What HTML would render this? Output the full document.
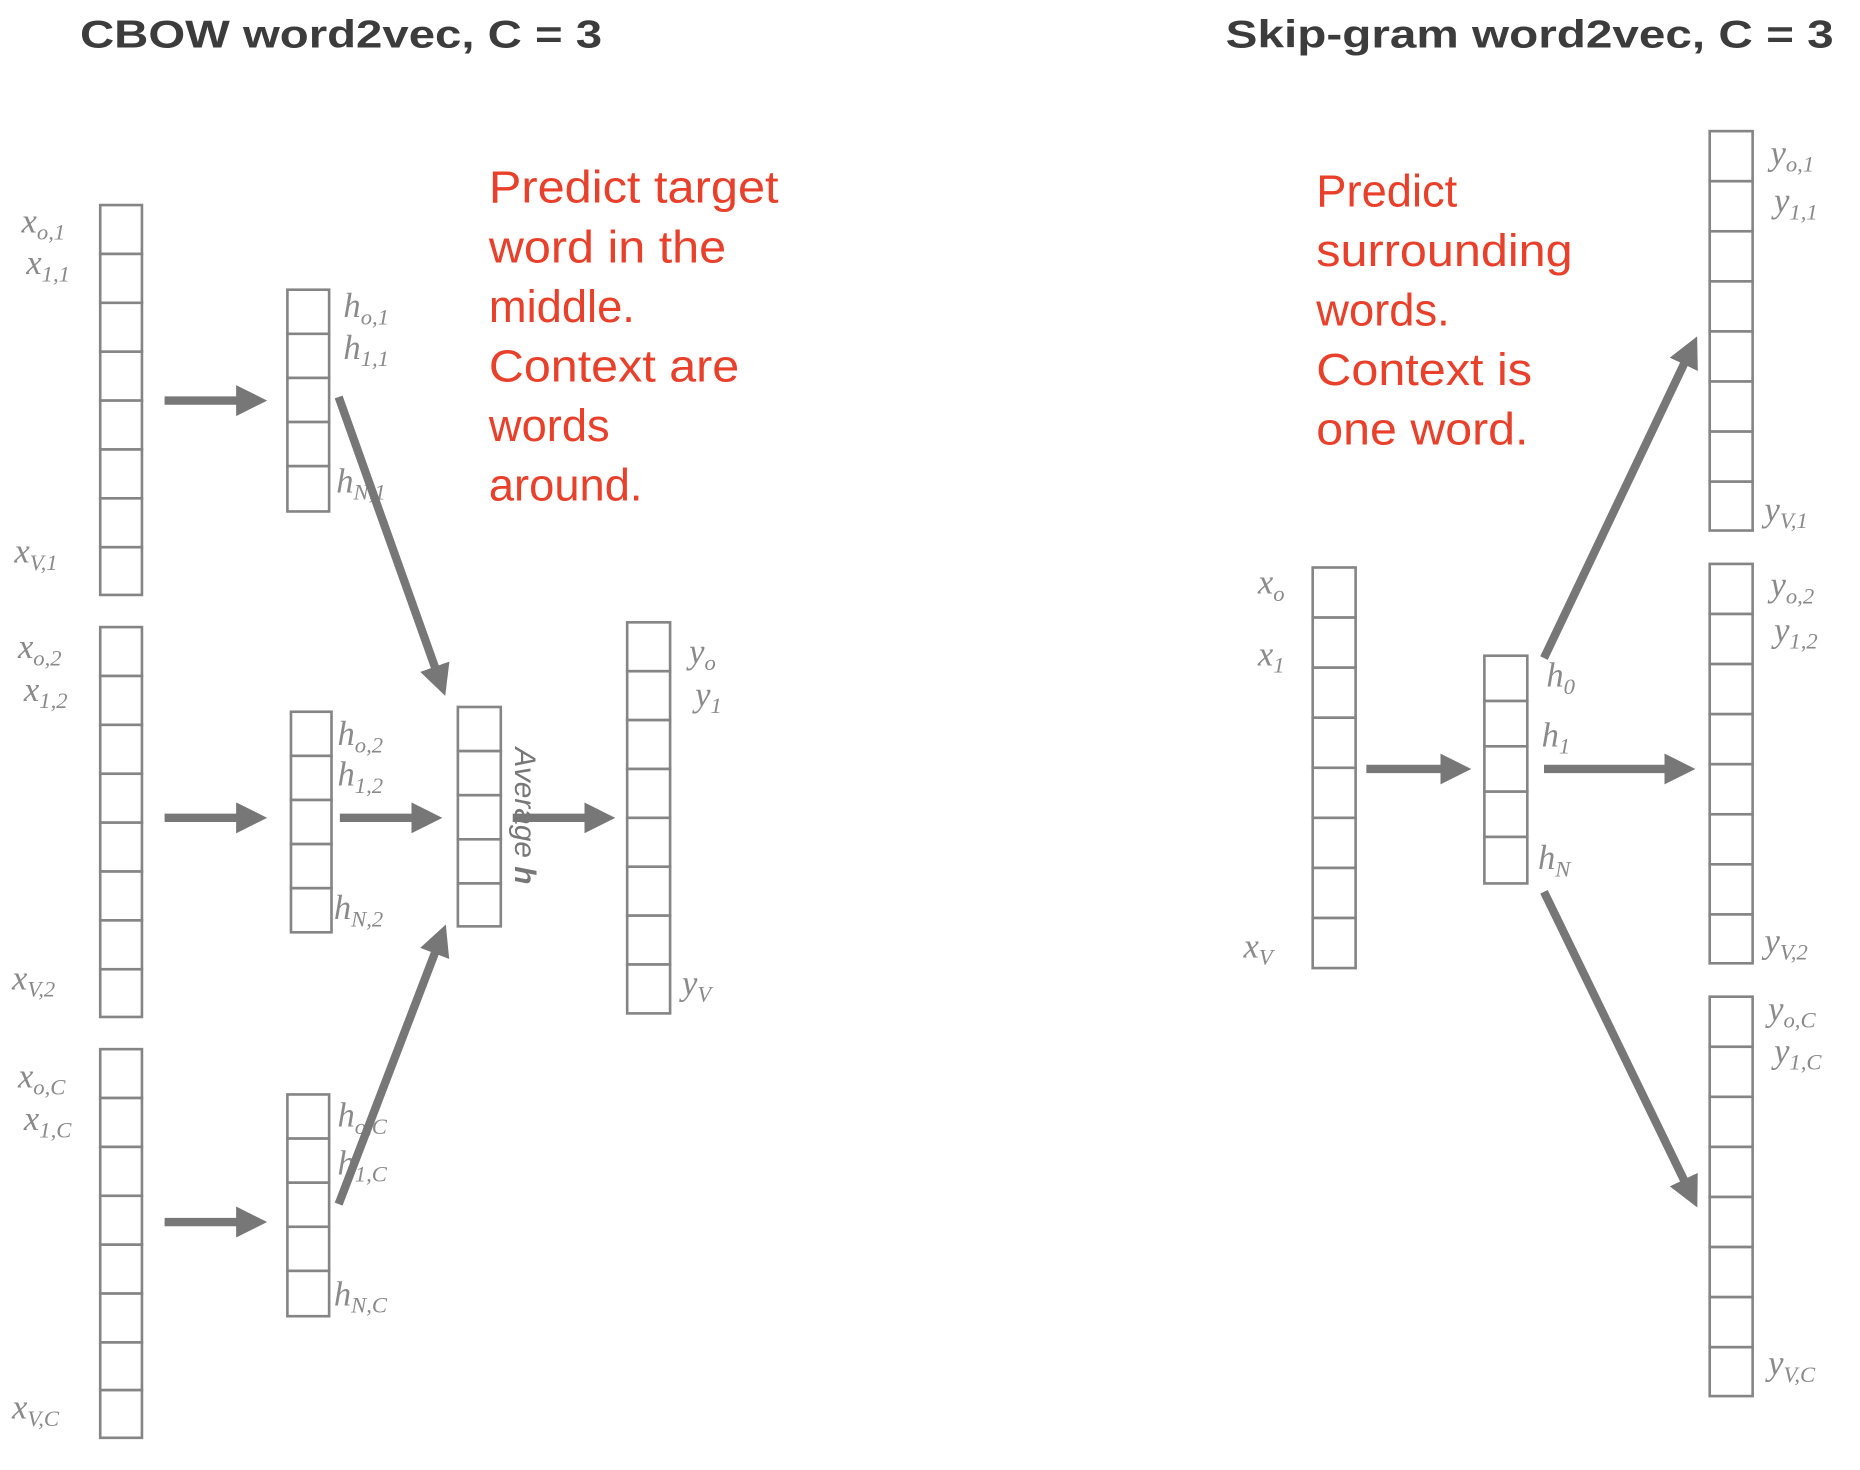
<!DOCTYPE html>
<html><head><meta charset="utf-8"><style>
html,body{margin:0;padding:0;background:#fff;}
svg{display:block;}
.c{fill:#fff;stroke:#858585;stroke-width:2.2;}
.l{font-family:"Liberation Serif",serif;font-style:italic;font-size:29px;fill:#8a8a8a;}
.s{font-size:19px;}
.r{font-family:"Liberation Sans",sans-serif;font-size:38px;fill:#e8402a;}
.t{font-family:"Liberation Sans",sans-serif;font-weight:bold;font-size:33px;fill:#3c3c3c;}
.a{stroke:#777;stroke-width:7;fill:none;marker-end:url(#ah);}
</style></head><body>
<svg width="1860" height="1470" viewBox="0 0 1560 1233" xmlns="http://www.w3.org/2000/svg">
<defs>
<marker id="ah" markerUnits="userSpaceOnUse" markerWidth="30" markerHeight="30" refX="4" refY="13" orient="auto">
<path d="M0,0 L26,13 L0,26 z" fill="#777"/>
</marker>
</defs>
<text class="t" x="67" y="40" textLength="438" lengthAdjust="spacingAndGlyphs">CBOW word2vec, C = 3</text>
<text class="t" x="1028" y="40" textLength="510" lengthAdjust="spacingAndGlyphs">Skip-gram word2vec, C = 3</text>

<g>
<rect class="c" x="84" y="172" width="35" height="41"/><rect class="c" x="84" y="213" width="35" height="41"/><rect class="c" x="84" y="254" width="35" height="41"/><rect class="c" x="84" y="295" width="35" height="41"/><rect class="c" x="84" y="336" width="35" height="41"/><rect class="c" x="84" y="377" width="35" height="41"/><rect class="c" x="84" y="418" width="35" height="41"/><rect class="c" x="84" y="459" width="35" height="40"/>
<rect class="c" x="84" y="526" width="35" height="41"/><rect class="c" x="84" y="567" width="35" height="41"/><rect class="c" x="84" y="608" width="35" height="41"/><rect class="c" x="84" y="649" width="35" height="41"/><rect class="c" x="84" y="690" width="35" height="41"/><rect class="c" x="84" y="731" width="35" height="41"/><rect class="c" x="84" y="772" width="35" height="41"/><rect class="c" x="84" y="813" width="35" height="40"/>
<rect class="c" x="84" y="880" width="35" height="41"/><rect class="c" x="84" y="921" width="35" height="41"/><rect class="c" x="84" y="962" width="35" height="41"/><rect class="c" x="84" y="1003" width="35" height="41"/><rect class="c" x="84" y="1044" width="35" height="41"/><rect class="c" x="84" y="1085" width="35" height="41"/><rect class="c" x="84" y="1126" width="35" height="40"/><rect class="c" x="84" y="1166" width="35" height="40"/>
</g>
<text class="l" x="18" y="195">x<tspan class="s" dy="6">o,1</tspan></text>
<text class="l" x="22" y="230">x<tspan class="s" dy="6">1,1</tspan></text>
<text class="l" x="12" y="472">x<tspan class="s" dy="6">V,1</tspan></text>
<text class="l" x="15" y="552">x<tspan class="s" dy="6">o,2</tspan></text>
<text class="l" x="20" y="588">x<tspan class="s" dy="6">1,2</tspan></text>
<text class="l" x="10" y="830">x<tspan class="s" dy="6">V,2</tspan></text>
<text class="l" x="15" y="912">x<tspan class="s" dy="6">o,C</tspan></text>
<text class="l" x="20" y="948">x<tspan class="s" dy="6">1,C</tspan></text>
<text class="l" x="10" y="1190">x<tspan class="s" dy="6">V,C</tspan></text>

<rect class="c" x="241" y="243" width="35" height="37"/><rect class="c" x="241" y="280" width="35" height="37"/><rect class="c" x="241" y="317" width="35" height="37"/><rect class="c" x="241" y="354" width="35" height="37"/><rect class="c" x="241" y="391" width="35" height="38"/>
<rect class="c" x="244" y="597" width="34" height="37"/><rect class="c" x="244" y="634" width="34" height="37"/><rect class="c" x="244" y="671" width="34" height="37"/><rect class="c" x="244" y="708" width="34" height="37"/><rect class="c" x="244" y="745" width="34" height="37"/>
<rect class="c" x="241" y="918" width="35" height="37"/><rect class="c" x="241" y="955" width="35" height="37"/><rect class="c" x="241" y="992" width="35" height="37"/><rect class="c" x="241" y="1029" width="35" height="37"/><rect class="c" x="241" y="1066" width="35" height="38"/>
<text class="l" x="288" y="266">h<tspan class="s" dy="6">o,1</tspan></text>
<text class="l" x="288" y="301">h<tspan class="s" dy="6">1,1</tspan></text>
<text class="l" x="282" y="413">h<tspan class="s" dy="6">N,1</tspan></text>
<text class="l" x="283" y="625">h<tspan class="s" dy="6">o,2</tspan></text>
<text class="l" x="283" y="659">h<tspan class="s" dy="6">1,2</tspan></text>
<text class="l" x="280" y="771">h<tspan class="s" dy="6">N,2</tspan></text>
<text class="l" x="283" y="945">h<tspan class="s" dy="6">o,C</tspan></text>
<text class="l" x="283" y="985">h<tspan class="s" dy="6">1,C</tspan></text>
<text class="l" x="280" y="1095">h<tspan class="s" dy="6">N,C</tspan></text>

<rect class="c" x="384" y="593" width="36" height="37"/><rect class="c" x="384" y="630" width="36" height="37"/><rect class="c" x="384" y="667" width="36" height="37"/><rect class="c" x="384" y="704" width="36" height="37"/><rect class="c" x="384" y="741" width="36" height="36"/>
<text x="432" y="627" transform="rotate(90 432 627)" font-family="Liberation Sans,sans-serif" font-style="italic" font-size="25" fill="#777">Average <tspan font-weight="bold">h</tspan></text>

<rect class="c" x="526" y="522" width="36" height="41"/><rect class="c" x="526" y="563" width="36" height="41"/><rect class="c" x="526" y="604" width="36" height="41"/><rect class="c" x="526" y="645" width="36" height="41"/><rect class="c" x="526" y="686" width="36" height="41"/><rect class="c" x="526" y="727" width="36" height="41"/><rect class="c" x="526" y="768" width="36" height="41"/><rect class="c" x="526" y="809" width="36" height="41"/>
<text class="l" x="578" y="556">y<tspan class="s" dy="6">o</tspan></text>
<text class="l" x="583" y="592">y<tspan class="s" dy="6">1</tspan></text>
<text class="l" x="572" y="834">y<tspan class="s" dy="6">V</tspan></text>

<line class="a" x1="138" y1="336" x2="202" y2="336"/>
<line class="a" x1="138" y1="686" x2="202" y2="686"/>
<line class="a" x1="138" y1="1025" x2="202" y2="1025"/>
<line class="a" x1="285" y1="686" x2="349" y2="686"/>
<line class="a" x1="430" y1="686" x2="494" y2="686"/>
<line class="a" x1="284" y1="333" x2="366" y2="563"/>
<line class="a" x1="284" y1="1010" x2="366" y2="796"/>

<text class="r" x="410" y="170" textLength="243" lengthAdjust="spacingAndGlyphs">Predict target</text>
<text class="r" x="410" y="220" textLength="199" lengthAdjust="spacingAndGlyphs">word in the</text>
<text class="r" x="410" y="270">middle.</text>
<text class="r" x="410" y="320" textLength="210" lengthAdjust="spacingAndGlyphs">Context are</text>
<text class="r" x="410" y="370">words</text>
<text class="r" x="410" y="420">around.</text>

<text class="r" x="1104" y="173">Predict</text>
<text class="r" x="1104" y="223" textLength="215" lengthAdjust="spacingAndGlyphs">surrounding</text>
<text class="r" x="1104" y="273">words.</text>
<text class="r" x="1104" y="323" textLength="181" lengthAdjust="spacingAndGlyphs">Context is</text>
<text class="r" x="1104" y="373" textLength="178" lengthAdjust="spacingAndGlyphs">one word.</text>

<rect class="c" x="1101" y="476" width="36" height="42"/><rect class="c" x="1101" y="518" width="36" height="42"/><rect class="c" x="1101" y="560" width="36" height="42"/><rect class="c" x="1101" y="602" width="36" height="42"/><rect class="c" x="1101" y="644" width="36" height="42"/><rect class="c" x="1101" y="686" width="36" height="42"/><rect class="c" x="1101" y="728" width="36" height="42"/><rect class="c" x="1101" y="770" width="36" height="42"/>
<text class="l" x="1055" y="498">x<tspan class="s" dy="6">o</tspan></text>
<text class="l" x="1055" y="558">x<tspan class="s" dy="6">1</tspan></text>
<text class="l" x="1043" y="803">x<tspan class="s" dy="6">V</tspan></text>

<rect class="c" x="1245" y="550" width="36" height="38"/><rect class="c" x="1245" y="588" width="36" height="38"/><rect class="c" x="1245" y="626" width="36" height="38"/><rect class="c" x="1245" y="664" width="36" height="38"/><rect class="c" x="1245" y="702" width="36" height="39"/>
<text class="l" x="1297" y="576">h<tspan class="s" dy="6">0</tspan></text>
<text class="l" x="1293" y="626">h<tspan class="s" dy="6">1</tspan></text>
<text class="l" x="1290" y="729">h<tspan class="s" dy="6">N</tspan></text>

<g>
<rect class="c" x="1434" y="110" width="36" height="42"/><rect class="c" x="1434" y="152" width="36" height="42"/><rect class="c" x="1434" y="194" width="36" height="42"/><rect class="c" x="1434" y="236" width="36" height="42"/><rect class="c" x="1434" y="278" width="36" height="42"/><rect class="c" x="1434" y="320" width="36" height="42"/><rect class="c" x="1434" y="362" width="36" height="42"/><rect class="c" x="1434" y="404" width="36" height="41"/>
<rect class="c" x="1434" y="473" width="36" height="42"/><rect class="c" x="1434" y="515" width="36" height="42"/><rect class="c" x="1434" y="557" width="36" height="42"/><rect class="c" x="1434" y="599" width="36" height="42"/><rect class="c" x="1434" y="641" width="36" height="42"/><rect class="c" x="1434" y="683" width="36" height="42"/><rect class="c" x="1434" y="725" width="36" height="42"/><rect class="c" x="1434" y="767" width="36" height="41"/>
<rect class="c" x="1434" y="836" width="36" height="42"/><rect class="c" x="1434" y="878" width="36" height="42"/><rect class="c" x="1434" y="920" width="36" height="42"/><rect class="c" x="1434" y="962" width="36" height="42"/><rect class="c" x="1434" y="1004" width="36" height="42"/><rect class="c" x="1434" y="1046" width="36" height="42"/><rect class="c" x="1434" y="1088" width="36" height="42"/><rect class="c" x="1434" y="1130" width="36" height="41"/>
</g>
<text class="l" x="1485" y="138">y<tspan class="s" dy="6">o,1</tspan></text>
<text class="l" x="1488" y="178">y<tspan class="s" dy="6">1,1</tspan></text>
<text class="l" x="1480" y="437">y<tspan class="s" dy="6">V,1</tspan></text>
<text class="l" x="1485" y="500">y<tspan class="s" dy="6">o,2</tspan></text>
<text class="l" x="1488" y="538">y<tspan class="s" dy="6">1,2</tspan></text>
<text class="l" x="1480" y="799">y<tspan class="s" dy="6">V,2</tspan></text>
<text class="l" x="1483" y="856">y<tspan class="s" dy="6">o,C</tspan></text>
<text class="l" x="1488" y="891">y<tspan class="s" dy="6">1,C</tspan></text>
<text class="l" x="1483" y="1153">y<tspan class="s" dy="6">V,C</tspan></text>

<line class="a" x1="1146" y1="645" x2="1212" y2="645"/>
<line class="a" x1="1295" y1="645" x2="1400" y2="645"/>
<line class="a" x1="1295" y1="552" x2="1414" y2="302"/>
<line class="a" x1="1295" y1="748" x2="1414" y2="993"/>
</svg>
</body></html>
